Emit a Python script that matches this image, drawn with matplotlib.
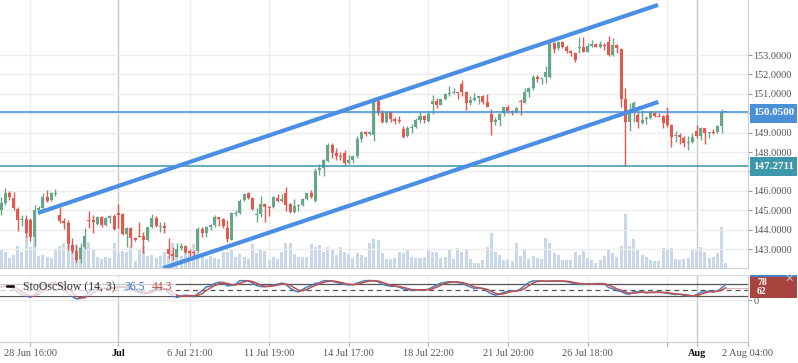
import matplotlib
matplotlib.use("Agg")
import matplotlib.pyplot as plt
from matplotlib.patches import Rectangle
from matplotlib.lines import Line2D
import numpy as np
import pandas as pd

# ---- data (4h candles) ----
opens = [145.01, 145.35, 145.87, 145.65, 145.05, 144.50, 144.55, 144.49, 143.64, 145.01,
         145.10, 145.70, 145.53, 145.82, 144.74, 144.46, 144.32, 143.20, 142.91, 142.47,
         143.09, 144.47, 144.50, 144.29, 144.63, 144.24, 144.58, 144.70, 144.87, 144.80,
         143.77, 144.07, 143.55, 143.69, 143.67, 143.46, 144.12, 144.58, 144.12, 144.19,
         142.98, 142.74, 142.60, 143.03, 143.15, 142.91, 142.86, 142.91, 144.03, 143.81,
         144.12, 144.24, 144.63, 144.53, 144.10, 143.46, 144.82, 144.87, 145.53, 145.90,
         145.65, 144.74, 144.80, 145.32, 145.15, 145.15, 145.65, 145.49, 145.90, 145.32,
         144.92, 145.22, 145.27, 145.58, 145.87, 145.49, 147.07, 147.16, 147.55, 148.36,
         147.93, 147.79, 147.93, 147.45, 147.59, 147.79, 148.67, 149.05, 148.91, 148.88,
         150.65, 150.03, 149.56, 150.04, 149.68, 149.65, 149.17, 148.83, 149.25, 149.30,
         149.65, 149.86, 149.62, 150.50, 150.63, 150.42, 150.73, 150.99, 151.04, 151.08,
         151.50, 151.11, 150.51, 150.68, 150.80, 150.89, 150.59, 149.96, 149.56, 149.65,
         149.99, 150.30, 150.13, 150.08, 150.65, 150.51, 151.11, 151.28, 151.85, 151.75,
         151.85, 151.85, 153.60, 153.36, 153.65, 153.43, 153.22, 153.09, 153.34, 153.39,
         153.17, 153.48, 153.56, 153.43, 153.51, 153.69, 153.00, 153.51, 153.29, 150.71,
         149.56, 149.99, 149.91, 149.51, 149.70, 149.74, 150.03, 149.86, 149.86, 149.91,
         149.39, 148.84, 148.88, 148.74, 148.45, 148.53, 149.08, 148.84, 149.22, 148.99,
         149.05, 149.01, 149.34, 150.05]
highs = [145.70, 146.13, 146.01, 145.96, 145.18, 144.75, 144.75, 144.58, 145.27, 145.22,
         145.87, 146.04, 145.96, 146.08, 145.18, 144.58, 144.50, 143.55, 143.21, 143.29,
         144.07, 144.96, 144.75, 144.70, 144.70, 144.67, 144.75, 144.79, 145.34, 144.84,
         144.15, 144.12, 143.60, 144.41, 143.89, 144.15, 144.80, 144.70, 144.41, 144.41,
         143.55, 143.12, 143.29, 143.29, 143.21, 142.98, 142.95, 144.12, 144.15, 144.19,
         144.29, 144.75, 144.67, 144.58, 144.50, 144.92, 145.01, 145.56, 145.90, 145.96,
         145.70, 145.10, 145.73, 145.39, 145.22, 145.73, 145.84, 145.84, 146.21, 145.35,
         145.56, 145.32, 145.61, 145.90, 146.04, 147.16, 147.38, 147.62, 148.45, 148.45,
         148.19, 148.02, 148.10, 147.85, 147.85, 148.82, 149.10, 149.10, 149.07, 150.85,
         150.89, 150.17, 150.13, 150.08, 149.82, 149.86, 149.34, 149.34, 149.44, 149.74,
         150.08, 149.91, 150.13, 150.94, 150.77, 150.75, 151.06, 151.40, 151.28, 151.11,
         151.71, 151.16, 150.89, 151.02, 150.91, 150.94, 150.99, 150.20, 149.79, 149.99,
         150.34, 150.42, 150.16, 150.30, 150.72, 151.28, 151.37, 151.97, 151.97, 151.82,
         152.43, 153.64, 153.69, 153.74, 153.74, 153.52, 153.26, 153.17, 153.91, 153.95,
         153.60, 153.77, 153.60, 153.74, 153.64, 153.98, 153.86, 153.56, 153.34, 151.28,
         150.51, 150.65, 150.08, 150.17, 149.86, 150.13, 150.08, 149.99, 149.91, 150.34,
         149.44, 149.08, 148.96, 148.83, 148.83, 148.96, 149.37, 149.30, 149.25, 149.05,
         149.17, 149.37, 150.22, 150.06]
lows = [144.75, 145.27, 145.53, 145.01, 143.95, 144.19, 143.60, 143.43, 143.15, 144.80,
        144.98, 145.44, 145.49, 145.73, 144.32, 144.01, 142.95, 142.78, 142.35, 142.26,
        142.98, 144.07, 143.81, 144.24, 144.12, 144.19, 144.36, 143.98, 144.10, 143.72,
        143.12, 143.12, 143.43, 143.60, 142.78, 143.43, 144.07, 144.12, 143.89, 143.84,
        142.52, 142.43, 142.57, 142.95, 142.81, 142.64, 142.64, 142.86, 143.64, 143.64,
        143.98, 144.15, 144.19, 144.07, 143.38, 143.46, 144.70, 144.80, 145.49, 145.56,
        145.01, 144.41, 144.67, 144.41, 144.70, 145.10, 145.44, 145.44, 144.98, 144.84,
        144.87, 144.98, 145.22, 145.53, 145.61, 145.44, 146.81, 146.76, 147.50, 147.67,
        147.59, 147.59, 147.33, 147.38, 147.42, 147.67, 148.53, 148.82, 148.88, 148.58,
        149.91, 149.51, 149.51, 149.56, 149.44, 149.48, 148.70, 148.76, 149.00, 149.22,
        149.51, 149.51, 149.56, 149.96, 150.25, 150.40, 150.68, 150.89, 151.00, 150.73,
        150.89, 150.16, 150.42, 150.65, 150.47, 150.47, 150.30, 148.88, 149.39, 149.34,
        149.86, 150.03, 149.91, 149.99, 149.91, 150.51, 150.85, 151.20, 151.62, 151.50,
        151.57, 151.80, 153.09, 153.26, 153.34, 153.12, 152.95, 152.66, 153.09, 153.14,
        153.14, 153.43, 153.39, 153.34, 153.26, 152.95, 152.95, 153.09, 150.34, 147.27,
        149.10, 149.56, 149.25, 149.44, 149.44, 149.70, 149.79, 149.79, 149.22, 149.27,
        148.28, 148.53, 148.41, 148.28, 148.10, 148.45, 148.70, 148.62, 148.41, 148.70,
        148.93, 148.96, 148.99, 150.04]
closes = [145.36, 145.87, 145.66, 145.10, 144.50, 144.55, 143.81, 143.60, 145.01, 145.10,
          145.70, 145.49, 145.87, 145.87, 144.44, 144.32, 143.26, 142.91, 142.43, 143.03,
          143.67, 144.43, 144.41, 144.67, 144.24, 144.58, 144.70, 144.01, 144.76, 143.77,
          144.07, 143.55, 143.46, 143.64, 143.46, 144.12, 144.58, 144.19, 144.17, 144.07,
          142.74, 142.64, 142.98, 143.15, 142.86, 142.81, 142.77, 144.01, 143.81, 144.12,
          144.24, 144.67, 144.53, 144.19, 143.50, 144.87, 144.87, 145.49, 145.84, 145.61,
          145.06, 144.80, 145.32, 145.15, 145.10, 145.66, 145.49, 145.56, 145.27, 144.92,
          145.22, 145.27, 145.58, 145.87, 145.70, 147.04, 147.16, 147.59, 148.36, 147.96,
          147.79, 147.72, 147.45, 147.59, 147.79, 148.67, 149.05, 148.91, 149.05, 150.68,
          150.03, 149.56, 150.08, 149.68, 149.61, 149.60, 148.79, 149.22, 149.30, 149.65,
          149.86, 149.65, 149.96, 150.64, 150.42, 150.73, 150.99, 151.06, 151.08, 151.02,
          151.11, 150.54, 150.68, 150.80, 150.89, 150.59, 150.34, 149.56, 149.65, 149.96,
          150.30, 150.13, 150.08, 150.25, 150.59, 151.11, 151.28, 151.88, 151.75, 151.80,
          152.14, 153.60, 153.31, 153.65, 153.43, 153.21, 153.09, 152.74, 153.39, 153.17,
          153.46, 153.56, 153.43, 153.56, 153.48, 153.00, 153.51, 153.34, 150.71, 149.56,
          149.99, 150.51, 149.56, 149.65, 149.74, 150.08, 149.86, 149.82, 149.51, 149.39,
          148.79, 148.88, 148.76, 148.45, 148.53, 148.79, 148.83, 149.25, 148.99, 149.04,
          148.96, 149.34, 150.05, 150.05]
volumes = [19, 16, 10, 13, 22, 16, 32, 21, 32, 12, 13, 11, 10, 19, 22, 25, 23, 18, 24, 21,
           26, 26, 18, 11, 9, 11, 10, 25, 15, 17, 16, 22, 7, 19, 22, 12, 13, 10, 12, 16,
           12, 25, 18, 12, 16, 15, 24, 16, 11, 9, 12, 10, 9, 16, 16, 18, 11, 14, 11, 9,
           24, 15, 18, 17, 8, 11, 9, 16, 25, 25, 14, 11, 11, 11, 24, 21, 23, 16, 21, 19,
           13, 21, 16, 14, 10, 15, 13, 11, 25, 29, 28, 15, 9, 9, 10, 16, 15, 18, 11, 10,
           10, 11, 18, 16, 16, 10, 11, 18, 9, 20, 16, 19, 9, 5, 5, 8, 21, 35, 16, 13,
           8, 8, 7, 25, 12, 19, 9, 12, 10, 9, 30, 25, 15, 13, 8, 8, 8, 16, 13, 17,
           10, 8, 5, 8, 12, 19, 15, 11, 22, 54, 22, 29, 19, 13, 11, 8, 7, 7, 20, 18,
           20, 9, 8, 9, 10, 19, 17, 21, 16, 10, 11, 15, 41, 5]

tick_pos = [7, 28, 45, 64, 83, 102, 121, 140, 159, 166, 178.2]
tick_labels = ["28 Jun 16:00", "Jul", "6 Jul 21:00", "11 Jul 19:00", "14 Jul 17:00",
               "18 Jul 22:00", "21 Jul 20:00", "26 Jul 18:00", "", "Aug", "2 Aug 04:00"]
month_ticks = [28, 166]
price_ticks = [143, 144, 145, 146, 147, 148, 149, 150, 151, 152, 153]
hidden_ticks = [147, 150]   # covered by the price-line labels

upper_x, upper_y = [8.83, 156.8], [144.86, 155.58]
lower_x, lower_y = [38.66, 156.87], [142.01, 150.58]
last_price = 150.05
low_level = 147.2711
k_label, d_label = "78", "62"
k_hover, d_hover = "36.5", "44.3"

GREEN = "#67a689"
RED = "#e8574b"
CHANNEL = "#4a8fe4"

W, H = 798, 363
plt.rcParams["font.family"] = ["Liberation Serif", "DejaVu Serif"]


def fx(x):
    return x / W


def fy(y):
    return 1 - y / H


fig = plt.figure(figsize=(W / 100, H / 100), dpi=100)
fig.patch.set_facecolor("white")

main_rect = [0, fy(268), fx(748), 268 / H]
osc_rect = [0, fy(342), fx(748), (342 - 275) / H]
xlim = (-1 / 4.19, 747 / 4.19)

ax_vol = fig.add_axes(main_rect)
ax = fig.add_axes(main_rect)
ax.patch.set_alpha(0)
ax_osc = fig.add_axes(osc_rect)

x = np.arange(len(closes))
o = np.array(opens)
c = np.array(closes)
up = c >= o
colors = np.where(up, GREEN, RED)

# volume
ax_vol.bar(x, volumes, width=0.72, color="#c9d7ea", linewidth=0)
ax_vol.set_xlim(*xlim)
ax_vol.set_ylim(0, 268)
ax_vol.axis("off")

# vertical grid
for t in tick_pos[:-1]:
    col = "#c8c8c8" if t in month_ticks else "#ededed"
    ax_vol.axvline(t, color=col, lw=1, zorder=0)
    ax_osc.axvline(t, color=col, lw=1, zorder=0)

# candles
ax.vlines(x, lows, highs, colors=colors, lw=1, zorder=3)
body = np.maximum(np.abs(c - o), 0.04)
ax.bar(x, body, bottom=np.minimum(o, c), width=0.72, color=colors, linewidth=0, zorder=3)

# channel
ax.plot(upper_x, upper_y, color=CHANNEL, lw=3, solid_capstyle="butt", zorder=5)
ax.plot(lower_x, lower_y, color=CHANNEL, lw=3, solid_capstyle="butt", zorder=5)

ax.axhline(last_price, color="#3d8fd6", lw=1.1, zorder=4)
ax.axhline(low_level, color="#3a95a8", lw=1.1, zorder=4)

ax.set_xlim(*xlim)
ax.set_ylim(142.021, 155.835)
ax.set_yticks(price_ticks)
ax.set_yticklabels(["" if p in hidden_ticks else "%.4f" % p for p in price_ticks])
ax.yaxis.tick_right()
ax.tick_params(axis="y", length=3, color="#999999", labelcolor="#555555",
               labelsize=7.4, pad=1)
ax.set_xticks([])
for p in price_ticks:
    ax.axhline(p, color="#ececec", lw=1, zorder=0)
for s in ["top", "left"]:
    ax.spines[s].set_visible(False)
ax.spines["right"].set_color("#cccccc")
ax.spines["bottom"].set_color("#d0d0d0")

# stochastic slow (14, 3)
df = pd.DataFrame({"h": highs, "l": lows, "c": closes})
hh = df["h"].rolling(14, min_periods=1).max()
ll = df["l"].rolling(14, min_periods=1).min()
fast_k = 100 * (df["c"] - ll) / (hh - ll)
slow_k = fast_k.rolling(3, min_periods=1).mean()
slow_d = slow_k.rolling(3, min_periods=1).mean()

ax_osc.axhline(0, color="#ececec", lw=1, zorder=0)
ax_osc.axhline(80, color="#555555", lw=0.9)
ax_osc.axhline(20, color="#555555", lw=0.9)
ax_osc.axhline(50, color="#555555", lw=0.9, ls=(0, (4, 3)))
ax_osc.plot(x, slow_k, color="#4a7fc1", lw=1.1)
ax_osc.plot(x, slow_d, color="#c0504d", lw=1.1)
ax_osc.plot([x[-1], xlim[1]], [slow_d.iloc[-1]] * 2, color="#c0504d", lw=0.6, alpha=0.5)
ax_osc.set_xlim(*xlim)
ax_osc.set_ylim(-210, 125)
ax_osc.set_yticks([0])
ax_osc.set_yticklabels(["0"])
ax_osc.yaxis.tick_right()
ax_osc.tick_params(axis="y", length=3, color="#999999", labelcolor="#555555",
                   labelsize=7.4, pad=1)
ax_osc.set_xticks(tick_pos)
ax_osc.set_xticklabels(tick_labels)
ax_osc.tick_params(axis="x", length=3, color="#aaaaaa", labelcolor="#555555",
                   labelsize=7.4, pad=2)
for lab in ax_osc.get_xticklabels():
    if lab.get_text() in ("Jul", "Aug"):
        lab.set_color("#111111")
        lab.set_fontweight("bold")
ax_osc.spines["left"].set_visible(False)
ax_osc.spines["top"].set_color("#dddddd")
ax_osc.spines["right"].set_color("#cccccc")
ax_osc.spines["bottom"].set_color("#cccccc")

# price labels on the axis
for yc, txt, col in [(113, "150.0500", "#4a90d9"), (166.3, "147.2711", "#3b97a9")]:
    fig.add_artist(Rectangle((fx(750), fy(yc + 9.5)), 47 / W, 19 / H,
                             transform=fig.transFigure, color=col, lw=0))
    fig.text(fx(773.5), fy(yc), txt, ha="center", va="center", color="white",
             fontsize=8, fontweight="bold")

# oscillator value labels
fig.add_artist(Rectangle((fx(750), fy(292)), 47 / W, 17 / H,
                         transform=fig.transFigure, color="#4a7fc1", lw=0))
fig.add_artist(Rectangle((fx(750), fy(298)), 47 / W, 21 / H,
                         transform=fig.transFigure, color="#a8443e", lw=0))
fig.text(fx(757), fy(282.3), k_label, ha="left", va="center", color="white",
         fontsize=7, fontweight="bold")
fig.text(fx(757), fy(291.3), d_label, ha="left", va="center", color="white",
         fontsize=7, fontweight="bold")
fig.text(fx(789), fy(279), "\u2715", ha="center", va="center", color="#c4c4c4",
         fontsize=8, family="DejaVu Sans")

# legend of the oscillator pane
fig.add_artist(Rectangle((0, fy(296)), 176 / W, 19 / H, transform=fig.transFigure,
                         color="white", alpha=0.7, lw=0))
fig.add_artist(Line2D([fx(7), fx(13)], [fy(286), fy(286)], transform=fig.transFigure,
                      color="black", lw=1.8))
fig.text(fx(23), fy(286.5), "StoOscSlow (14, 3)", ha="left", va="center",
         color="#333333", fontsize=8.5)
fig.text(fx(124), fy(286.5), k_hover, ha="left", va="center", color="#3b78c0",
         fontsize=8.5)
fig.text(fx(152), fy(286.5), d_hover, ha="left", va="center", color="#c0504d",
         fontsize=8.5)

fig.savefig("out.png", dpi=100)
